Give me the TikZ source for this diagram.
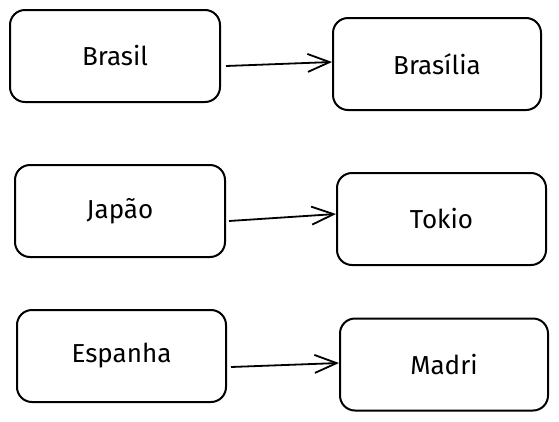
\documentclass[tikz,border=0pt]{standalone}
\usepackage{fontspec}
\setmainfont{Fira Sans}
\usetikzlibrary{arrows.meta}
\tikzset{
  caixa/.style={draw, line width=2pt, rounded corners=15pt, minimum height=92pt, font=\fontsize{26}{30}\selectfont},
  seta/.style={line width=1.8pt, -{Straight Barb[length=22pt,width=18pt,line width=1.8pt]}}
}
\begin{document}
\begin{tikzpicture}[x=1pt,y=-1pt]
\useasboundingbox (0,0) rectangle (559,421);
\node[caixa, minimum width=210pt] (bra) at (115,56) {Brasil};
\node[caixa, minimum width=210pt] (jap) at (120,211) {Japão};
\node[caixa, minimum width=209pt] (esp) at (121.5,356) {Espanha};
\node[caixa, minimum width=208pt] (bsb) at (437,64) {Brasília};
\node[caixa, minimum width=209pt] (tok) at (441.5,219) {Tokio};
\node[caixa, minimum width=208pt] (mad) at (444,364.5) {Madri};
\draw[seta] ([xshift=5pt,yshift=-10pt]bra.east) -- ([yshift=2pt]bsb.west);
\draw[seta] ([xshift=3pt,yshift=-10pt]jap.east) -- ([yshift=5pt]tok.west);
\draw[seta] ([xshift=4pt,yshift=-11pt]esp.east) -- ([yshift=1.5pt]mad.west);
\end{tikzpicture}
\end{document}
